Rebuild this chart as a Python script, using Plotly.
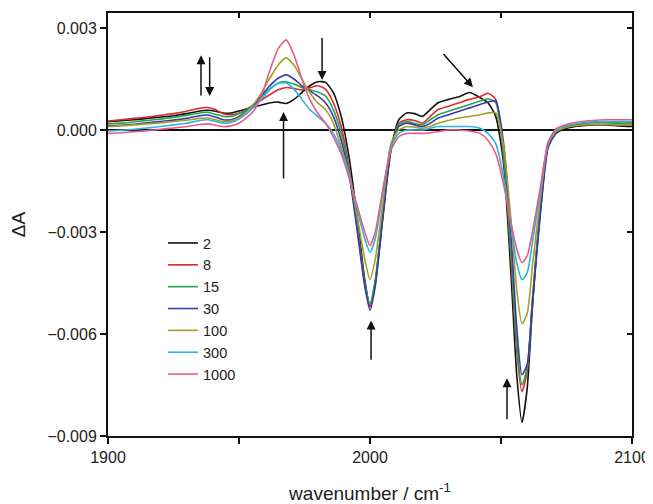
import plotly.graph_objects as go

wavenumber = [1900, 1905, 1910, 1915, 1920, 1925, 1930, 1935, 1938, 1941, 1944, 1947, 1950, 1953, 1956,
              1959, 1962, 1965, 1968, 1971, 1974, 1977, 1980, 1983, 1986, 1989, 1992, 1995, 1998, 2000,
              2002, 2005, 2008, 2011, 2014, 2017, 2020, 2023, 2026, 2030, 2034, 2038, 2042, 2045, 2048,
              2051, 2054, 2056, 2058, 2060, 2062, 2065, 2068, 2071, 2075, 2080, 2085, 2090, 2095, 2100]

s2 = [0.00024, 0.00027, 0.00030, 0.00034, 0.00038, 0.00042, 0.00048, 0.00056, 0.00058, 0.00055, 0.00050, 0.00050, 0.00056, 0.00062, 0.00068,
      0.00074, 0.00080, 0.00082, 0.00078, 0.00090, 0.00110, 0.00130, 0.00142, 0.00140, 0.00110, 0.00040, -0.00080, -0.00250, -0.00440, -0.00520,
      -0.00450, -0.00250, -0.00060, 0.00030, 0.00050, 0.00048, 0.00040, 0.00060, 0.00080, 0.00090, 0.00098, 0.00110, 0.00095, 0.00080, 0.00040,
      -0.00100, -0.00450, -0.00720, -0.00860, -0.00760, -0.00520, -0.00240, -0.00050, -0.00010, 0.00005, 0.00012, 0.00015, 0.00015, 0.00012, 0.00010]

s8 = [0.00026, 0.00030, 0.00034, 0.00038, 0.00043, 0.00048, 0.00055, 0.00064, 0.00066, 0.00060, 0.00048, 0.00045, 0.00050, 0.00060, 0.00075,
      0.00090, 0.00105, 0.00118, 0.00125, 0.00122, 0.00118, 0.00124, 0.00130, 0.00120, 0.00080, 0.00010, -0.00110, -0.00270, -0.00450, -0.00520,
      -0.00450, -0.00240, -0.00050, 0.00020, 0.00030, 0.00028, 0.00020, 0.00040, 0.00060, 0.00070, 0.00080, 0.00090, 0.00098, 0.00108, 0.00090,
      -0.00080, -0.00400, -0.00650, -0.00770, -0.00710, -0.00500, -0.00230, -0.00040, -0.00005, 0.00010, 0.00018, 0.00022, 0.00022, 0.00020, 0.00020]

s15 = [0.00018, 0.00020, 0.00024, 0.00028, 0.00032, 0.00037, 0.00043, 0.00050, 0.00052, 0.00046, 0.00040, 0.00040, 0.00048, 0.00060, 0.00078,
       0.00100, 0.00122, 0.00138, 0.00142, 0.00135, 0.00125, 0.00118, 0.00112, 0.00100, 0.00060, -0.00010, -0.00120, -0.00280, -0.00450, -0.00510,
       -0.00440, -0.00240, -0.00050, 0.00015, 0.00025, 0.00020, 0.00015, 0.00030, 0.00045, 0.00055, 0.00065, 0.00075, 0.00085, 0.00092, 0.00080,
       -0.00070, -0.00380, -0.00630, -0.00750, -0.00700, -0.00500, -0.00230, -0.00040, -0.00005, 0.00010, 0.00018, 0.00022, 0.00022, 0.00020, 0.00020]

s30 = [0.00012, 0.00014, 0.00017, 0.00021, 0.00025, 0.00029, 0.00034, 0.00042, 0.00044, 0.00038, 0.00030, 0.00030, 0.00040, 0.00056, 0.00078,
       0.00105, 0.00132, 0.00152, 0.00162, 0.00150, 0.00130, 0.00115, 0.00100, 0.00080, 0.00040, -0.00030, -0.00130, -0.00290, -0.00460, -0.00530,
       -0.00460, -0.00250, -0.00050, 0.00010, 0.00020, 0.00015, 0.00010, 0.00020, 0.00035, 0.00045, 0.00055, 0.00065, 0.00075, 0.00082, 0.00085,
       -0.00040, -0.00330, -0.00580, -0.00720, -0.00690, -0.00510, -0.00250, -0.00050, -0.00008, 0.00008, 0.00014, 0.00016, 0.00016, 0.00015, 0.00015]

s100 = [0.00010, 0.00012, 0.00015, 0.00018, 0.00021, 0.00025, 0.00029, 0.00034, 0.00035, 0.00030, 0.00025, 0.00026, 0.00036, 0.00054, 0.00080,
        0.00115, 0.00155, 0.00192, 0.00212, 0.00190, 0.00150, 0.00110, 0.00080, 0.00060, 0.00020, -0.00050, -0.00130, -0.00250, -0.00380, -0.00440,
        -0.00380, -0.00210, -0.00040, 0.00000, 0.00010, 0.00008, 0.00005, 0.00010, 0.00020, 0.00028, 0.00035, 0.00040, 0.00045, 0.00050, 0.00050,
        -0.00050, -0.00280, -0.00470, -0.00570, -0.00540, -0.00400, -0.00200, -0.00040, -0.00005, 0.00008, 0.00014, 0.00016, 0.00016, 0.00015, 0.00015]

s300 = [-0.00003, -0.00001, 0.00002, 0.00006, 0.00010, 0.00015, 0.00020, 0.00028, 0.00030, 0.00025, 0.00020, 0.00022, 0.00032, 0.00048, 0.00070,
        0.00095, 0.00120, 0.00138, 0.00138, 0.00120, 0.00090, 0.00060, 0.00040, 0.00020, -0.00010, -0.00060, -0.00130, -0.00230, -0.00320, -0.00360,
        -0.00320, -0.00180, -0.00050, -0.00010, 0.00000, 0.00000, 0.00000, 0.00005, 0.00010, 0.00010, 0.00010, 0.00010, 0.00005, -0.00010, -0.00040,
        -0.00140, -0.00290, -0.00390, -0.00440, -0.00420, -0.00330, -0.00180, -0.00040, 0.00000, 0.00013, 0.00020, 0.00024, 0.00025, 0.00025, 0.00025]

s1000 = [-0.00010, -0.00008, -0.00005, -0.00002, 0.00002, 0.00006, 0.00010, 0.00016, 0.00018, 0.00014, 0.00010, 0.00012, 0.00020, 0.00036, 0.00060,
         0.00110, 0.00180, 0.00240, 0.00265, 0.00220, 0.00150, 0.00090, 0.00050, 0.00020, -0.00020, -0.00070, -0.00140, -0.00220, -0.00300, -0.00340,
         -0.00300, -0.00170, -0.00060, -0.00020, -0.00010, -0.00010, -0.00010, -0.00008, -0.00005, 0.00000, 0.00000, -0.00003, -0.00010, -0.00030, -0.00070,
         -0.00160, -0.00280, -0.00350, -0.00390, -0.00370, -0.00300, -0.00170, -0.00035, 0.00003, 0.00016, 0.00024, 0.00028, 0.00030, 0.00030, 0.00030]

series_names = ["2", "8", "15", "30", "100", "300", "1000"]
series_values = [s2, s8, s15, s30, s100, s300, s1000]
series_colors = ["#111111", "#e0282e", "#22a650", "#3a3aa8", "#a3a02a", "#2ab4e0", "#e85a8a"]

x_tickvals = [1900, 1950, 2000, 2050, 2100]
x_ticktext = ["1900", "", "2000", "", "2100"]
y_tickvals = [-0.009, -0.006, -0.003, 0.0, 0.003]
x_range = [1900, 2100]
y_range = [-0.009, 0.00344]

# arrows: (head_x, head_y, tail_x, tail_y)
arrows = [
    (1935.5, 0.0022, 1935.5, 0.00097),
    (1938.8, 0.00100, 1938.8, 0.00218),
    (1967.0, 0.00053, 1967.0, -0.00147),
    (1981.7, 0.00147, 1981.7, 0.00275),
    (2039.3, 0.00126, 2027.5, 0.00228),
    (2000.4, -0.00560, 2000.4, -0.00680),
    (2052.3, -0.00730, 2052.3, -0.00855),
]

fig = go.Figure()
for name, vals, col in zip(series_names, series_values, series_colors):
    fig.add_trace(go.Scatter(x=wavenumber, y=vals, mode="lines", name=name,
                             line=dict(color=col, width=1.6, shape="spline", smoothing=0.6)))

# empty helper trace so the mirrored (inside-tick) top/right axes are drawn
fig.add_trace(go.Scatter(x=[], y=[], xaxis="x2", yaxis="y2", showlegend=False,
                         hoverinfo="skip", mode="lines"))

for hx, hy, tx, ty in arrows:
    fig.add_annotation(x=hx, y=hy, ax=tx, ay=ty, xref="x", yref="y", axref="x", ayref="y",
                       text="", showarrow=True, arrowhead=2, arrowsize=1.2, arrowwidth=1.5,
                       arrowcolor="#111111")

font_family = "Arial, Liberation Sans, sans-serif"
fig.update_layout(
    width=645, height=496,
    margin=dict(l=100, r=21, t=5, b=68),
    paper_bgcolor="white", plot_bgcolor="white",
    font=dict(family=font_family, size=16, color="#222222"),
    showlegend=True,
    legend=dict(x=0.105, y=0.494, xanchor="left", yanchor="top",
                bgcolor="rgba(0,0,0,0)", font=dict(size=14.5), tracegroupgap=0),
    xaxis=dict(range=x_range, tickvals=x_tickvals, ticktext=x_ticktext,
               ticks="outside", ticklen=6, tickwidth=1.5, tickcolor="#111111",
               showline=True, linewidth=2, linecolor="#111111", mirror=True,
               showgrid=False, zeroline=False, automargin=False,
               title=dict(text="wavenumber / cm<sup>-1</sup>", standoff=22)),
    yaxis=dict(range=y_range, tickvals=y_tickvals, tickformat=".3f",
               ticks="outside", ticklen=6, tickwidth=1.5, tickcolor="#111111",
               showline=True, linewidth=2, linecolor="#111111", mirror=True,
               showgrid=False, zeroline=True, zerolinecolor="#111111", zerolinewidth=2,
               automargin=False,
               title=dict(text="ΔA", standoff=20)),
    xaxis2=dict(range=x_range, overlaying="x", side="top", anchor="y2",
                tickvals=x_tickvals, ticks="inside", ticklen=5, tickwidth=1.5,
                tickcolor="#111111", showticklabels=False, showgrid=False,
                zeroline=False, showline=False, automargin=False),
    yaxis2=dict(range=y_range, overlaying="y", side="right", anchor="x2",
                tickvals=y_tickvals, ticks="inside", ticklen=5, tickwidth=1.5,
                tickcolor="#111111", showticklabels=False, showgrid=False,
                zeroline=False, showline=False, automargin=False),
)

fig.write_html("out.html")
